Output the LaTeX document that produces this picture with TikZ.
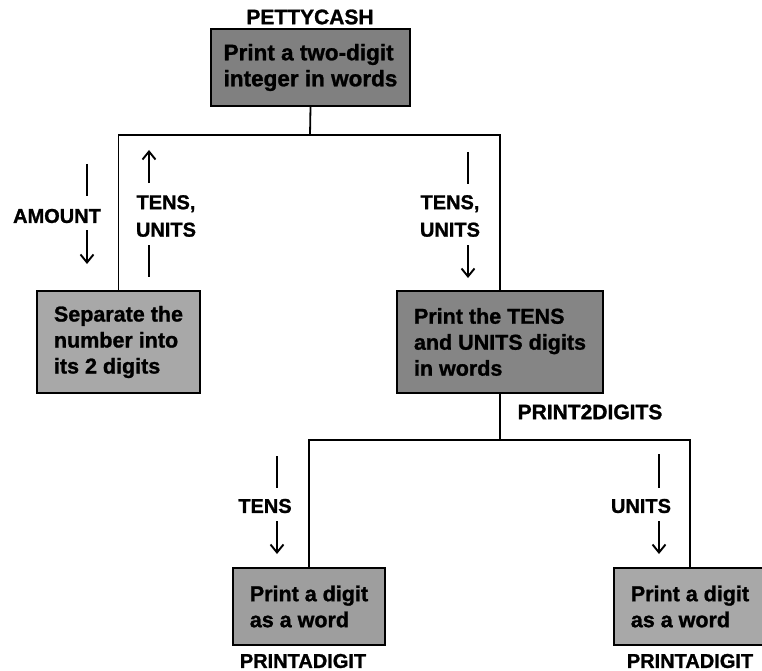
\documentclass[tikz,border=0pt]{standalone}
\usepackage{fontspec}
\setmainfont{Liberation Sans}
\newfontfamily\heavyfont[FakeBold=1.2]{Liberation Sans Bold}
\usetikzlibrary{arrows.meta}
\definecolor{fillA}{gray}{0.50}
\definecolor{fillB}{gray}{0.66}
\definecolor{fillC}{gray}{0.52}
\definecolor{fillD}{gray}{0.62}
\definecolor{fillE}{gray}{0.66}
\begin{document}
\begin{tikzpicture}[x=1pt,y=-1pt,
  box/.style={draw=black, line width=1.6pt, align=left, inner sep=0pt,
    font=\heavyfont\fontsize{21.5}{26}\selectfont},
  lbl/.style={font=\heavyfont\fontsize{20}{27.5}\selectfont, align=center, inner sep=0pt},
  conn/.style={line width=1.8pt},
  bar/.style={line width=1.8pt},
  dn/.style={line width=1.8pt, -{Straight Barb[length=8pt,width=13pt,line width=1.9pt]}}]
\useasboundingbox (0,0) rectangle (762,671);

% boxes
\node[box, fill=fillA, minimum width=199pt, minimum height=77pt,
  font=\heavyfont\fontsize{22.5}{26}\selectfont] (top) at (310.5,67.5) {Print a two-digit\\integer in words};
\node[box, fill=fillB, minimum width=163pt, minimum height=102pt] (lbox) at (118.5,342) {Separate the\\number into\\its 2 digits};
\node[box, fill=fillC, minimum width=206pt, minimum height=102pt] (mbox) at (500,342) {Print the TENS\\and UNITS digits\\in words};
\node[box, fill=fillD, minimum width=152pt, minimum height=77pt] (blbox) at (309,606.5) {Print a digit\\as a word};
\node[box, fill=fillE, minimum width=152pt, minimum height=77pt] (brbox) at (690,606.5) {Print a digit\\as a word};

% module names
\node[lbl, font=\heavyfont\fontsize{21}{26}\selectfont] (pc) at (310,17) {PETTYCASH};
\node[lbl, font=\heavyfont\fontsize{21}{26}\selectfont] (p2d) at (590,412) {PRINT2DIGITS};
\node[lbl] (pad1) at (303,661) {PRINTADIGIT};
\node[lbl] (pad2) at (690,661) {PRINTADIGIT};

% tree connectors
\coordinate (j1) at (310,135);
\coordinate (j2) at (500,440);
\draw[conn] (top.south) -- (j1);
\draw[conn] (lbox.north) |- (j1) -| (mbox.north);
\draw[conn] (mbox.south) -- (j2);
\draw[conn] (blbox.north) |- (j2) -| (brbox.north);

% data-flow annotations
\node[lbl] (amt) at (57,216) {AMOUNT};
\coordinate (a1) at (87,164); \coordinate (a2) at (87,196);
\coordinate (a3) at (87,230); \coordinate (a4) at (87,264);
\draw[bar] (a1) -- (a2);
\draw[dn] (a3) -- (a4);

\node[lbl] (tu1) at (166,216) {TENS,\\UNITS};
\coordinate (b1) at (149,183); \coordinate (b2) at (149,150);
\coordinate (b3) at (149,245); \coordinate (b4) at (149,277);
\draw[dn] (b1) -- (b2);
\draw[bar] (b3) -- (b4);

\node[lbl] (tu2) at (450,216) {TENS,\\UNITS};
\coordinate (c1) at (468,152); \coordinate (c2) at (468,184);
\coordinate (c3) at (468,245); \coordinate (c4) at (468,278);
\draw[bar] (c1) -- (c2);
\draw[dn] (c3) -- (c4);

\node[lbl] (t3) at (265,506) {TENS};
\coordinate (d1) at (277,456); \coordinate (d2) at (277,488);
\coordinate (d3) at (277,521); \coordinate (d4) at (277,554);
\draw[bar] (d1) -- (d2);
\draw[dn] (d3) -- (d4);

\node[lbl] (u4) at (641,506) {UNITS};
\coordinate (e1) at (659,454); \coordinate (e2) at (659,488);
\coordinate (e3) at (659,521); \coordinate (e4) at (659,554);
\draw[bar] (e1) -- (e2);
\draw[dn] (e3) -- (e4);
\end{tikzpicture}
\end{document}
